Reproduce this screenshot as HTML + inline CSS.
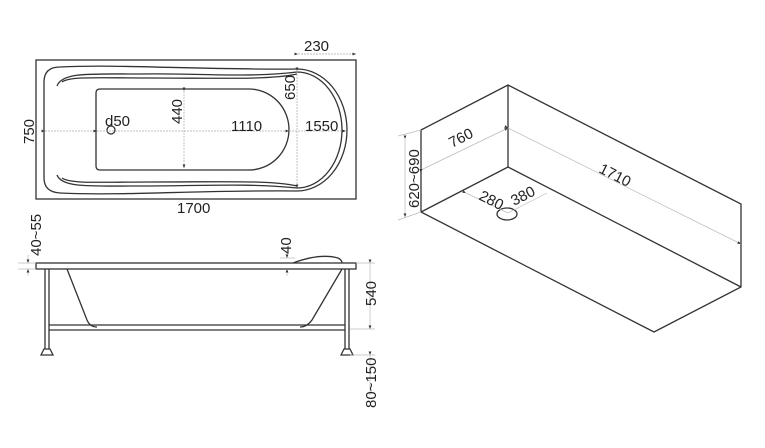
<!DOCTYPE html>
<html><head><style>body{margin:0;background:#fff}svg{display:block}text{font-family:"Liberation Sans",sans-serif;font-size:15px;fill:#222}</style></head>
<body>
<svg width="765" height="448" viewBox="0 0 765 448" xmlns="http://www.w3.org/2000/svg">
<defs><marker id="a" markerWidth="6" markerHeight="6" refX="5" refY="3" orient="auto"><path d="M0,1 L5,3 L0,5z" fill="#333"/></marker></defs>
<g fill="none" stroke="#333" stroke-width="1.3">
<rect x="36" y="60" width="320" height="139"/>
<path d="M60,67 C120,64 200,70 297,69 A50,61 0 0 1 297,191 C200,190 120,196 60,193 Q44,192 44,178 L44,82 Q44,67 60,67Z"/>
<path d="M57,86 C62,72 90,74 140,74 C200,73 250,78 297,72 A45,58 0 0 1 297,188 C250,183 200,186 140,186 C90,186 62,188 57,175"/>
<path d="M62,82 C70,76 100,78 150,78 C220,78 270,80 297,74"/>
<path d="M62,178 C70,184 100,182 150,182 C220,182 270,180 297,186"/>
<path d="M100,89 L249,89 A40,40.5 0 0 1 249,170 L100,170 Q96,170 96,166 L96,93 Q96,89 100,89Z"/>
<circle cx="111" cy="130" r="4"/>
<rect x="36" y="263" width="320" height="6"/>
<path d="M293,263 Q320,253 338,258 Q342,260 342,263"/>
<path d="M45,269 V349 M49,269 V349 M345,269 V349 M349,269 V349"/>
<path d="M49,325 H345 M49,330 H345"/>
<path d="M67,269 L87,320 Q90,327 97,327 M342,269 L312,320 Q307,327 300,327"/>
<path d="M41,355 L44,349 L50,349 L53,355Z M341,355 L344,349 L350,349 L353,355Z"/>
<path d="M421,130 L508,85 L741,204 L741,287 L654,332 L421,212Z M508,85 V167 M421,212 L508,167 L741,287"/>
<ellipse cx="507" cy="214" rx="10" ry="6"/>
</g>
<g stroke="#aaa" stroke-width="0.7" fill="none" stroke-dasharray="2,1">
<path d="M45,131 H95" marker-start="url(#a)"/>
<path d="M97,131 H289" marker-start="url(#a)" marker-end="url(#a)"/>
<path d="M289,131 H346" marker-end="url(#a)"/>
<path d="M297,71 V188" marker-start="url(#a)" marker-end="url(#a)"/>
<path d="M184,91 V168" marker-start="url(#a)" marker-end="url(#a)"/>
<path d="M298,54 H356" marker-start="url(#a)" marker-end="url(#a)"/>
</g>
<g stroke="#bbb" stroke-width="0.7" fill="none">
<path d="M28,255 V263" marker-end="url(#a)"/><path d="M28,276 V269" marker-end="url(#a)"/>
<path d="M18,263 H36 M18,269 H36"/>
<path d="M287,250 V258" marker-end="url(#a)"/><path d="M287,276 V269" marker-end="url(#a)"/>
<path d="M280,258 H295"/>
<path d="M370,263 V329" marker-start="url(#a)" marker-end="url(#a)"/>
<path d="M356,263 H375 M350,329 H375 M350,355 H375"/>
<path d="M370,355 V395" marker-start="url(#a)"/>
<path d="M423,169 L508,128" marker-start="url(#a)" marker-end="url(#a)"/>
<path d="M508,128 L741,244" marker-start="url(#a)" marker-end="url(#a)"/>
<path d="M405,139 V217" marker-start="url(#a)" marker-end="url(#a)"/>
<path d="M398,136 L421,130 M398,220 L421,212"/>
<path d="M466,193 L508,213 L547,193" marker-start="url(#a)"/>
</g>
<text x="304" y="51">230</text>
<text x="105" y="126">d50</text>
<text x="231" y="131">1110</text>
<text x="305" y="131">1550</text>
<text x="177" y="213">1700</text>
<text transform="translate(34,144) rotate(-90)">750</text>
<text transform="translate(182,124) rotate(-90)">440</text>
<text transform="translate(295,100) rotate(-90)">650</text>
<text transform="translate(41,256) rotate(-90)">40~55</text>
<text transform="translate(291,254) rotate(-90)">40</text>
<text transform="translate(376,306) rotate(-90)">540</text>
<text transform="translate(376,408) rotate(-90)">80~150</text>
<text transform="translate(419,208) rotate(-90)">620~690</text>
<text transform="translate(452,148) rotate(-27)">760</text>
<text transform="translate(598,172) rotate(27)">1710</text>
<text transform="translate(478,199) rotate(27)">280</text>
<text transform="translate(514,206) rotate(-27)">380</text>
</svg>
</body></html>
